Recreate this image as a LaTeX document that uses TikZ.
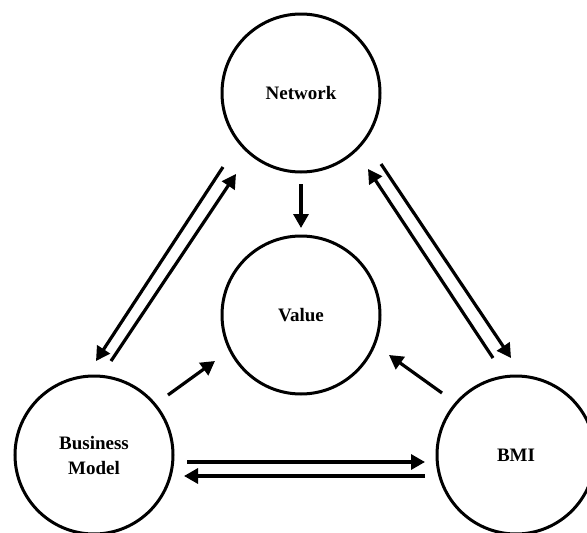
\documentclass[tikz,border=0pt]{standalone}
\usepackage{fontspec}
\setmainfont{Liberation Serif}
\usetikzlibrary{arrows.meta}
\begin{document}
\begin{tikzpicture}[x=1pt,y=-1pt,
  bubble/.style={circle,draw=black,line width=3pt,minimum size=158pt,inner sep=0pt,
    font=\fontsize{19}{25}\selectfont\bfseries,align=center},
  link/.style={line width=3.2pt,-{Triangle[length=14pt,width=15pt]}}]
\useasboundingbox (0,0) rectangle (587,533);
\fill[white] (0,0) rectangle (587,533);
\node[bubble] (net) at (301,93) {Network};
\node[bubble] (val) at (301,315) {Value};
\node[bubble] (bm) at (94,455) {Business\\Model};
\node[bubble] (bmi) at (516,455) {BMI};
% Network into Value
\draw[link] ([shift={(0,91)}]net.center) -- ([shift={(0,-87)}]val.center);
% Network <-> Business Model
\draw[link] ([shift={(-78,74)}]net.center) -- ([shift={(2,-94)}]bm.center);
\draw[link] ([shift={(17,-94)}]bm.center) -- ([shift={(-65,81)}]net.center);
% Network <-> BMI
\draw[link] ([shift={(80,71)}]net.center) -- ([shift={(-5,-97)}]bmi.center);
\draw[link] ([shift={(-23,-97)}]bmi.center) -- ([shift={(67,76)}]net.center);
% Business Model <-> BMI
\draw[link] ([shift={(93,7)}]bm.center) -- ([shift={(-91,7)}]bmi.center);
\draw[link] ([shift={(-91,21)}]bmi.center) -- ([shift={(90,21)}]bm.center);
% both outer nodes into Value
\draw[link] ([shift={(74,-60)}]bm.center) -- ([shift={(-86,46)}]val.center);
\draw[link] ([shift={(-74,-62)}]bmi.center) -- ([shift={(88,40)}]val.center);
\end{tikzpicture}
\end{document}
